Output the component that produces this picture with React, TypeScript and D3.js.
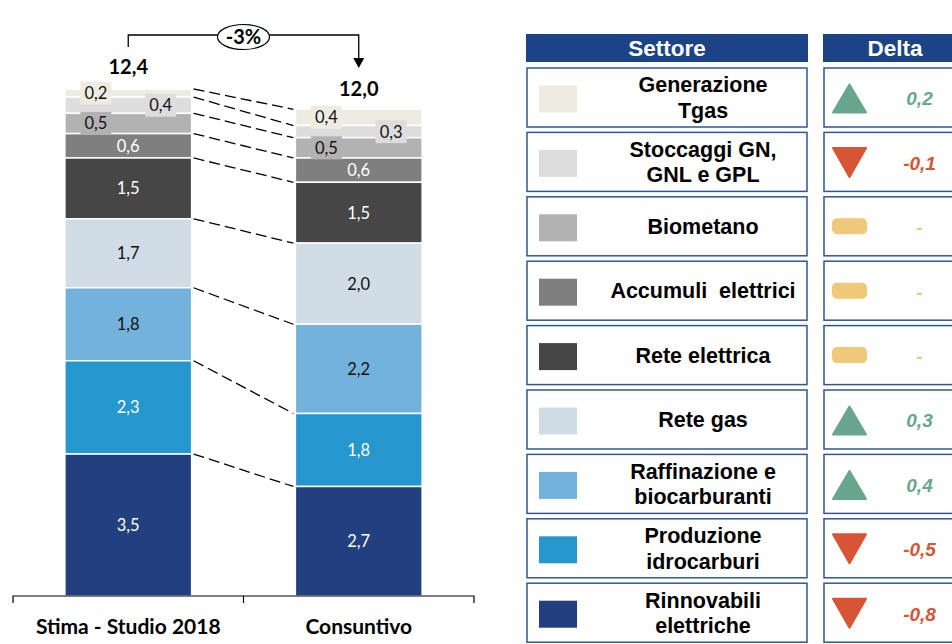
import React from "react";
import * as d3 from "d3";

const categories = ["Stima - Studio 2018", "Consuntivo"];
const sectors = [
  "Generazione|Tgas",
  "Stoccaggi GN,|GNL e GPL",
  "Biometano",
  "Accumuli  elettrici",
  "Rete elettrica",
  "Rete gas",
  "Raffinazione e|biocarburanti",
  "Produzione|idrocarburi",
  "Rinnovabili|elettriche",
];
const stima = [0.2, 0.4, 0.5, 0.6, 1.5, 1.7, 1.8, 2.3, 3.5];
const consuntivo = [0.4, 0.3, 0.5, 0.6, 1.5, 2.0, 2.2, 1.8, 2.7];
const deltas = [0.2, -0.1, 0, 0, 0, 0.3, 0.4, -0.5, -0.8];
const totals = ["12,4", "12,0"];
const changeLabel = "-3%";
const colors = ["#EEECE1", "#DDDDDD", "#B2B2B2", "#7F7F7F", "#464646", "#D0DCE6", "#73B2DA", "#2596CE", "#223F80"];
const darkText = [false, false, false, true, true, false, false, true, true];

const fmt = (v: number) => v.toFixed(1).replace(".", ",");

export default function App() {
  const W = 952, H = 644;
  const x = d3.scaleBand<string>().domain(categories).range([13, 474]).paddingInner(0.45).paddingOuter(0.225);
  const y = d3.scaleLinear().domain([0, 12.5]).range([596, 89]);
  const series = [stima, consuntivo];

  const stacks = series.map((vals) => {
    const segs: { y0: number; y1: number; v: number; i: number }[] = [];
    let acc = 0;
    for (let i = vals.length - 1; i >= 0; i--) {
      segs[i] = { y0: acc, y1: acc + vals[i], v: vals[i], i };
      acc += vals[i];
    }
    return segs;
  });

  const bw = x.bandwidth();
  const labelFont = "Lato, 'Open Sans', sans-serif";
  const tableFont = "'Liberation Sans', Arial, sans-serif";

  const x0 = x(categories[0])!, x1 = x(categories[1])!;
  const c0 = x0 + bw / 2, c1 = x1 + bw / 2;

  const rowTop = 68, rowPitch = 64.4, rowH = 59;
  const green = "#68A690", red = "#D65535", yellow = "#F0C87A";

  return (
    <svg width={W} height={H} style={{ position: "absolute", left: 0, top: 0, background: "#fff" }}>
      {stacks.map((segs, si) => {
        const bx = x(categories[si])!;
        return (
          <g key={si}>
            {segs.map((s) => (
              <rect key={s.i} x={bx} y={y(s.y1)} width={bw} height={y(s.y0) - y(s.y1)} fill={colors[s.i]} stroke="#fff" strokeWidth={1.5} />
            ))}
          </g>
        );
      })}
      {stacks[0].map((s, i) => (
        <line key={i} x1={x0 + bw + 2} y1={y(s.y1)} x2={x1 - 2} y2={y(stacks[1][i].y1)} stroke="#000" strokeWidth={1.3} strokeDasharray="11,5" />
      ))}
      {stacks.map((segs, si) => {
        const bx = x(categories[si])!;
        return (
          <g key={"l" + si}>
            {segs.map((s) => {
              const cy = (y(s.y0) + y(s.y1)) / 2;
              let cx = bx + bw / 2;
              let boxed = false;
              if (s.i === 0 || s.i === 2) { cx = bx + 31; boxed = true; }
              if (s.i === 1) { cx = bx + bw - 31; boxed = true; }
              return (
                <g key={s.i}>
                  {boxed && <rect x={cx - 15.5} y={cy - 11.5} width={31} height={23} fill={colors[s.i]} />}
                  <text x={cx} y={cy} dy="0.36em" textAnchor="middle" fontFamily={labelFont} fontSize={16.5} fill={darkText[s.i] ? "#fff" : "#111"}>
                    {fmt(s.v)}
                  </text>
                </g>
              );
            })}
          </g>
        );
      })}
      <text x={c0} y={y(12.5) - 15} textAnchor="middle" fontFamily={labelFont} fontWeight="bold" fontSize={20} fill="#000">{totals[0]}</text>
      <text x={c1} y={y(12.0) - 13} textAnchor="middle" fontFamily={labelFont} fontWeight="bold" fontSize={20} fill="#000">{totals[1]}</text>
      <path d={`M${c0},47 V35 H${c1} V58`} fill="none" stroke="#000" strokeWidth={1.3} />
      <path d={`M${c1 - 5.5},58 L${c1 + 5.5},58 L${c1},68 Z`} fill="#000" />
      <ellipse cx={(c0 + c1) / 2} cy={37} rx={26} ry={12.5} fill="#fff" stroke="#000" strokeWidth={1.2} />
      <text x={(c0 + c1) / 2} y={37} dy="0.36em" textAnchor="middle" fontFamily={labelFont} fontWeight="bold" fontSize={20}>{changeLabel}</text>
      <path d={`M13,603 V596 H474 V603 M${(c0 + c1) / 2},596 V603`} fill="none" stroke="#000" strokeWidth={1.2} />
      {categories.map((c) => (
        <text key={c} x={x(c)! + bw / 2} y={634} textAnchor="middle" fontFamily={labelFont} fontWeight="bold" fontSize={21}>{c}</text>
      ))}

      <rect x={526} y={34} width={282} height={28} fill="#1B4386" />
      <text x={667} y={48} dy="0.36em" textAnchor="middle" fontFamily={tableFont} fontWeight="bold" fontSize={22.5} fill="#fff">Settore</text>
      <rect x={823} y={34} width={160} height={28} fill="#1B4386" />
      <text x={895} y={48} dy="0.36em" textAnchor="middle" fontFamily={tableFont} fontWeight="bold" fontSize={22.5} fill="#fff">Delta</text>

      {sectors.map((s, i) => {
        const ty = rowTop + i * rowPitch;
        const cy = ty + rowH / 2;
        const lines = s.split("|");
        const d = deltas[i];
        const col = d > 0 ? green : d < 0 ? red : yellow;
        return (
          <g key={s}>
            <rect x={527} y={ty} width={280} height={rowH} fill="#fff" stroke="#2F5597" strokeWidth={1.5} />
            <rect x={539} y={cy - 12} width={38} height={27} fill={colors[i]} />
            {lines.map((ln, li) => (
              <text key={li} x={703} y={cy + (li - (lines.length - 1) / 2) * 25.5} dy="0.36em" textAnchor="middle" fontFamily={tableFont} fontWeight="bold" fontSize={21.5} fill="#000" style={{ whiteSpace: "pre" }}>
                {ln}
              </text>
            ))}
            <rect x={824} y={ty} width={160} height={rowH} fill="#fff" stroke="#2F5597" strokeWidth={1.5} />
            {d > 0 && <path d={`M${849.5},${cy - 13} L${866},${cy + 15} L${833},${cy + 15} Z`} fill={green} stroke={green} strokeWidth={2} strokeLinejoin="round" />}
            {d < 0 && <path d={`M${833},${cy - 14} L${866},${cy - 14} L${849.5},${cy + 15} Z`} fill={red} stroke={red} strokeWidth={2} strokeLinejoin="round" />}
            {d === 0 && <rect x={832} y={cy - 8} width={35} height={16} rx={5} fill={yellow} />}
            <text x={919.5} y={cy + 1} dy="0.36em" textAnchor="middle" fontFamily={tableFont} fontWeight="bold" fontStyle="italic" fontSize={19} fill={col}>
              {d === 0 ? "-" : fmt(d)}
            </text>
          </g>
        );
      })}
    </svg>
  );
}
